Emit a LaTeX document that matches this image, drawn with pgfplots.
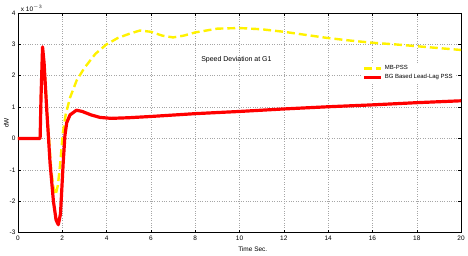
\documentclass[border=0pt]{standalone}
\usepackage{pgfplots}
\pgfplotsset{compat=1.18}
\usepackage{fontspec}
\setmainfont{Liberation Sans}
\begin{document}
\begin{tikzpicture}[x=1pt,y=1pt]
\begin{axis}[
  name=main,
  scale only axis,
  width=444pt, height=220pt,
  xmin=0, xmax=20, ymin=-3, ymax=4,
  xtick={0,2,...,20}, ytick={-3,-2,...,4},
  tick align=inside,
  tick style={black, line width=0.4pt},
  major tick length=3pt,
  grid=major,
  major grid style={gray!70, dotted, line width=0.5pt},
  axis line style={black, line width=0.6pt},
  ticklabel style={font=\fontsize{6.5}{7}\selectfont},
  /pgf/number format/assume math mode=true,
  xlabel={Time Sec.},
  ylabel={dW},
  xlabel style={font=\fontsize{6.5}{7}\selectfont, at={(rel axis cs:0.53,0)}, anchor=north, yshift=-11pt},
  ylabel style={font=\fontsize{6.5}{7}\selectfont, yshift=-6pt},
  yticklabel style={xshift=1pt},
  xticklabel style={yshift=0pt},
  legend style={at={(rel axis cs:0.775,0.775)}, anchor=north west, draw=none, fill=white,
    font=\fontsize{6}{7}\selectfont, inner sep=1pt, row sep=-1pt},
  legend cell align=left,
  legend image code/.code={\draw[#1] (0cm,0cm) -- (0.6cm,0cm);},
  clip mode=individual,
]
\addplot[yellow, line width=2.4pt, dash pattern=on 8pt off 4pt] coordinates {
(0,0) (1.0,0) (1.05,1.5) (1.11,2.9) (1.2,2.2) (1.35,0.5) (1.5,-1.0) (1.6,-1.55) (1.7,-1.8) (1.8,-1.5) (1.9,-0.85) (2.03,0.2) (2.15,0.75) (2.35,1.3) (2.65,1.85) (3.0,2.25) (3.5,2.7) (4,3.0) (4.5,3.2) (5,3.33) (5.5,3.44) (6,3.4) (6.5,3.28) (7,3.22) (7.5,3.28) (8,3.38) (9,3.5) (10,3.52) (11,3.48) (12,3.4) (13,3.3) (14,3.2) (15,3.12) (16,3.05) (17,3.0) (18,2.94) (19,2.88) (20,2.82)
};
\addlegendentry{MB-PSS}
\addplot[red, line width=3.2pt, line join=round] coordinates {
(0,0) (1.0,0) (1.04,1.3) (1.11,2.92) (1.18,2.4) (1.3,0.9) (1.45,-0.8) (1.6,-2.0) (1.72,-2.6) (1.82,-2.75) (1.92,-2.4) (2.04,-0.8) (2.12,0.1) (2.2,0.5) (2.35,0.75) (2.64,0.9) (2.9,0.86) (3.3,0.75) (3.7,0.67) (4.2,0.64) (5,0.66) (6,0.7) (8,0.79) (10,0.86) (12,0.94) (14,1.01) (16,1.07) (18,1.14) (20,1.2)
};
\addlegendentry{BG Based Lead-Lag PSS}
\node[font=\fontsize{7}{8}\selectfont] at (axis cs:9.86,2.5) {Speed Deviation at G1};
\node[font=\fontsize{6.5}{7}\selectfont, anchor=south west, inner sep=0.5pt, yshift=1pt] at (rel axis cs:0.005,1) {x 10$^{-3}$};
\end{axis}
\path ([shift={(-18pt,-23pt)}]main.south west) rectangle ([shift={(6pt,13pt)}]main.north east);
\end{tikzpicture}
\end{document}
